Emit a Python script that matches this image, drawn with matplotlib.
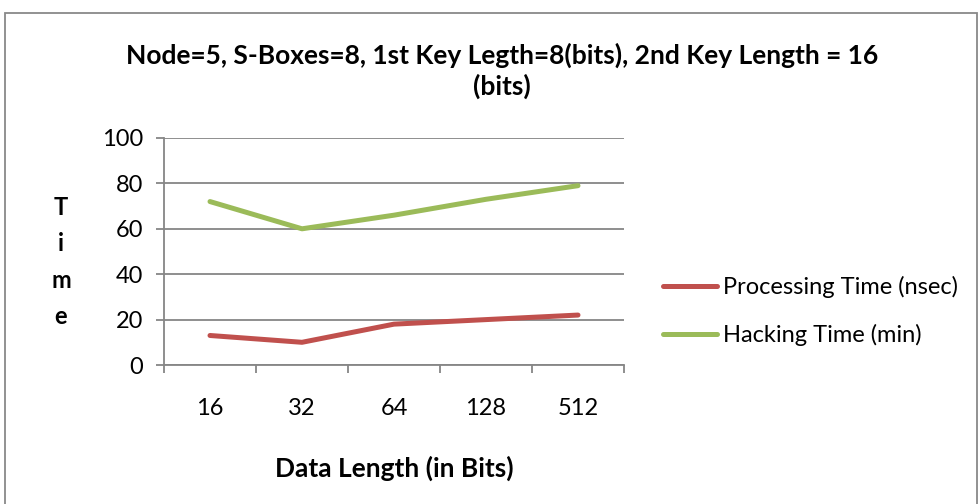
import matplotlib
matplotlib.use("Agg")
import matplotlib.pyplot as plt
from matplotlib.patches import Rectangle

plt.rcParams["font.family"] = ["Lato", "DejaVu Sans"]

data_length = ["16", "32", "64", "128", "512"]
processing_time = [13, 10, 18, 20, 22]
hacking_time = [72, 60, 66, 73, 79]

red = "#C0504D"
green = "#9BBB59"
grid_grey = "#868686"

fig = plt.figure(figsize=(9.8, 5.04), dpi=100)
ax = fig.add_axes([164 / 980, 139 / 504, 460 / 980, 227 / 504])

x = range(len(data_length))
ax.plot(x, processing_time, color=red, lw=3.6, solid_capstyle="round",
        solid_joinstyle="round", label="Processing Time (nsec)", zorder=3)
ax.plot(x, hacking_time, color=green, lw=3.6, solid_capstyle="round",
        solid_joinstyle="round", label="Hacking Time (min)", zorder=3)

ax.set_xlim(-0.5, len(data_length) - 0.5)
ax.set_ylim(0, 100)
ax.set_yticks(range(0, 101, 20))
# category boundaries get the tick marks, category centres get the labels
ax.set_xticks([i - 0.5 for i in range(len(data_length) + 1)])
ax.set_xticklabels([])
ax.set_xticks(list(x), minor=True)
ax.set_xticklabels(data_length, minor=True)
ax.tick_params(axis="x", which="minor", length=0, pad=24, labelsize=17)
ax.tick_params(axis="x", which="major", length=6, width=1.3, color=grid_grey)
ax.tick_params(axis="y", length=6, width=1.3, color=grid_grey, labelsize=17, pad=9)

ax.yaxis.grid(True, color=grid_grey, lw=1.3)
ax.set_axisbelow(True)
for side in ["top", "right"]:
    ax.spines[side].set_visible(False)
for side in ["left", "bottom"]:
    ax.spines[side].set_color(grid_grey)
    ax.spines[side].set_linewidth(1.3)

ax.set_xlabel("Data Length (in Bits)", fontsize=19, fontweight="bold", labelpad=26)

fig.text(61 / 980, 1 - 262 / 504, "T\ni\nm\ne", ha="center", va="center",
         fontsize=17, fontweight="bold", linespacing=1.7)

fig.text(502 / 980, 1 - 71 / 504,
         "Node=5, S-Boxes=8, 1st Key Legth=8(bits), 2nd Key Length = 16\n(bits)",
         ha="center", va="center", fontsize=19, fontweight="bold", linespacing=1.25)

fig.legend(loc="center left", bbox_to_anchor=(663 / 980, 1 - 311 / 504),
           frameon=False, fontsize=17, handlelength=2.3, handletextpad=0.25,
           labelspacing=1.12, borderpad=0, borderaxespad=0)

# outer chart border
fig.patches.append(Rectangle((5 / 980, -0.1), 972 / 980, 1.1 - 13 / 504,
                             transform=fig.transFigure, fill=False,
                             edgecolor="#898989", lw=1.3))

fig.savefig("out.png", dpi=100)
